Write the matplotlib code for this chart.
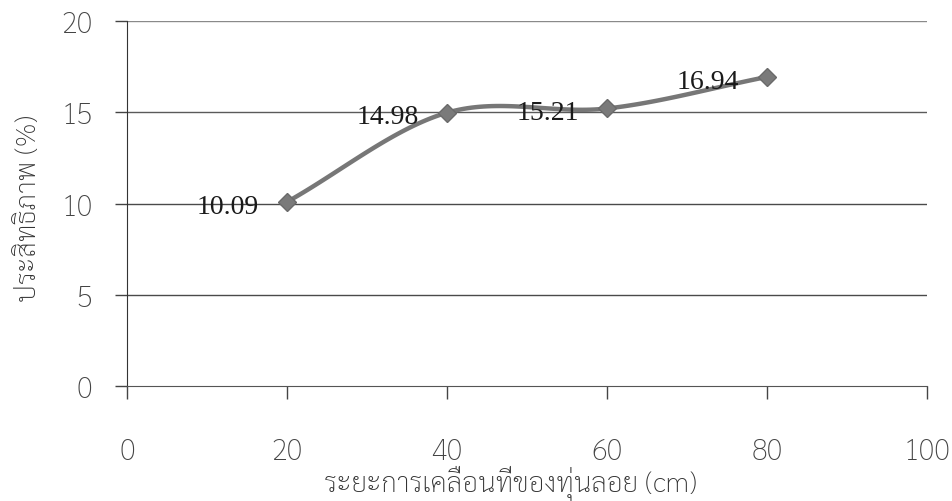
import numpy as np
import matplotlib
matplotlib.use("Agg")
import matplotlib.pyplot as plt

distance_cm = [20, 40, 60, 80]
efficiency_pct = [10.09, 14.98, 15.21, 16.94]
x_ticks = [0, 20, 40, 60, 80, 100]
y_ticks = [0, 5, 10, 15, 20]
x_label = "ระยะการเคลื่อนที่ของทุ่นลอย (cm)"
y_label = "ประสิทธิภาพ (%)"

THAI = ["Sarabun", "DejaVu Sans"]


def smooth_curve(xs, ys, n=40):
    # Catmull-Rom style smoothing through the data points
    xs = np.asarray(xs, float)
    ys = np.asarray(ys, float)
    px = np.concatenate([[2 * xs[0] - xs[1]], xs, [2 * xs[-1] - xs[-2]]])
    py = np.concatenate([[2 * ys[0] - ys[1]], ys, [2 * ys[-1] - ys[-2]]])
    out_x, out_y = [], []
    t = np.linspace(0, 1, n)
    for i in range(1, len(px) - 2):
        p0, p1, p2, p3 = [np.array([px[j], py[j]]) for j in (i - 1, i, i + 1, i + 2)]
        c1 = p1 + (p2 - p0) / 6
        c2 = p2 - (p3 - p1) / 6
        pts = ((1 - t) ** 3)[:, None] * p1 + (3 * (1 - t) ** 2 * t)[:, None] * c1 \
            + (3 * (1 - t) * t ** 2)[:, None] * c2 + (t ** 3)[:, None] * p2
        out_x.extend(pts[:, 0])
        out_y.extend(pts[:, 1])
    return np.array(out_x), np.array(out_y)


fig = plt.figure(figsize=(9.52, 5.02), dpi=100)
ax = fig.add_axes([0.1334, 0.229, 0.8403, 0.727])

ax.set_xlim(0, 100)
ax.set_ylim(0, 20)
ax.set_xticks(x_ticks)
ax.set_yticks(y_ticks)

grid_colors = {5: "#4a4a4a", 10: "#4a4a4a", 15: "#5a5a5a", 20: "#8a8a8a"}
for v in y_ticks[1:]:
    ax.axhline(v, color=grid_colors.get(v, "#5a5a5a"), lw=1.0, zorder=1)

sx, sy = smooth_curve(distance_cm, efficiency_pct)
ax.plot(sx, sy, color="#777777", lw=3.2, zorder=3, solid_capstyle="round")
ax.plot(distance_cm, efficiency_pct, ls="none", marker="D", ms=9,
        color="#7a7a7a", markeredgecolor="#6a6a6a", zorder=4)

for xv, yv in zip(distance_cm, efficiency_pct):
    ax.annotate(f"{yv:.2f}", (xv, yv), xytext=(-20, -3), textcoords="offset points",
                ha="right", va="center", fontsize=20, color="#1a1a1a",
                family="Liberation Serif", zorder=5)

for s in ("top", "right"):
    ax.spines[s].set_visible(False)
ax.spines["left"].set_color("#333333")
ax.spines["bottom"].set_color("#555555")

ax.tick_params(axis="y", direction="out", length=9, width=1, color="#444444",
               pad=16, labelsize=21, labelcolor="#444444")
ax.tick_params(axis="x", direction="out", length=9, width=1, color="#444444",
               pad=28, labelsize=21, labelcolor="#444444")
for lab in ax.get_xticklabels() + ax.get_yticklabels():
    lab.set_family(THAI)
    lab.set_fontweight("light")

ax.set_xlabel(x_label, fontsize=20, color="#333333", family=THAI, fontweight="light")
ax.xaxis.set_label_coords(0.479, -0.265)
ax.xaxis.label.set_va("center")
ax.set_ylabel(y_label, fontsize=20, color="#333333", family=THAI, fontweight="light")
ax.yaxis.set_label_coords(-0.123, 0.49)
ax.yaxis.label.set_va("center")

fig.savefig("out.png", dpi=100)
